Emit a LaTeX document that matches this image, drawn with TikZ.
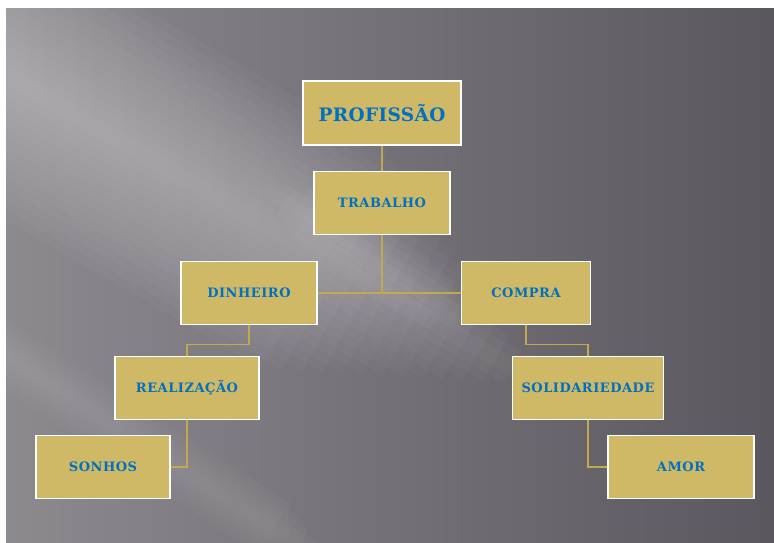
\documentclass[tikz,border=0pt]{standalone}
\usepackage{fontspec}
\usepackage{tikz}
\newfontfamily\slabfont[LetterSpace=4, BoldFont={DejaVu Serif Bold}]{DejaVu Serif}
\definecolor{bglight}{RGB}{140,137,143}
\definecolor{bgdark}{RGB}{90,87,94}
\definecolor{boxgold}{RGB}{207,185,102}
\definecolor{linegold}{RGB}{196,168,80}
\definecolor{textblue}{RGB}{0,112,192}

\begin{document}
\begin{tikzpicture}[x=1pt, y=-1pt,
    box/.style={draw=white, line width=1.6pt, fill=boxgold, inner sep=0pt,
        minimum height=63pt, text=textblue, font=\slabfont\bfseries\fontsize{13}{15}\selectfont},
    link/.style={draw=linegold, line width=1.5pt}]
	\useasboundingbox (0,0) rectangle (774,542);
	% background
	\shade[left color=bglight, right color=bgdark] (6,8) rectangle (774,542);
	\begin{scope}
		\clip (6,8) rectangle (774,542);
		\begin{scope}[shift={(110,135)}, rotate=-30]
			\foreach \i in {1,...,14}
				\fill[white, opacity=0.028] (-500,-9*\i) rectangle (500-18*\i,9*\i);
		\end{scope}
		\begin{scope}[shift={(60,390)}, rotate=-33]
			\foreach \i in {1,...,5}
				\fill[white, opacity=0.025] (-500,-6*\i) rectangle (330-15*\i,6*\i);
		\end{scope}
		\begin{scope}[shift={(380,265)}, rotate=-35]
			\foreach \i in {1,...,5}
				\fill[white, opacity=0.025] (-150+12*\i,-6*\i) rectangle (120-10*\i,6*\i);
		\end{scope}
	\end{scope}
	% boxes
	\node[box, minimum width=158pt, minimum height=64pt, font=\slabfont\bfseries\fontsize{18.5}{21}\selectfont\addfontfeature{LetterSpace=2}] (prof) at (382,113) {PROFISSÃO};
	\node[box, minimum width=136pt] (trab) at (382,203) {TRABALHO};
	\node[box, minimum width=136pt] (dinh) at (249,293) {DINHEIRO};
	\node[box, minimum width=129pt] (comp) at (526,293) {COMPRA};
	\node[box, minimum width=144pt] (real) at (187,388) {REALIZAÇÃO};
	\node[box, minimum width=151pt] (soli) at (588,388) {SOLIDARIEDADE};
	\node[box, minimum width=134pt] (sonh) at (103,467) {SONHOS};
	\node[box, minimum width=146pt] (amor) at (681,467) {AMOR};
	% connectors
	\draw[link] (prof) -- (trab);
	\draw[link] (dinh) -- (comp);
	\draw[link] (trab.south) -- (trab.south |- dinh.east);
	\draw[link] (dinh.south) -- ++(0,19) -| (real.north);
	\draw[link] (comp.south) -- ++(0,19) -| (soli.north);
	\draw[link] (real.south) |- (sonh.east);
	\draw[link] (soli.south) |- (amor.west);
\end{tikzpicture}
\end{document}
